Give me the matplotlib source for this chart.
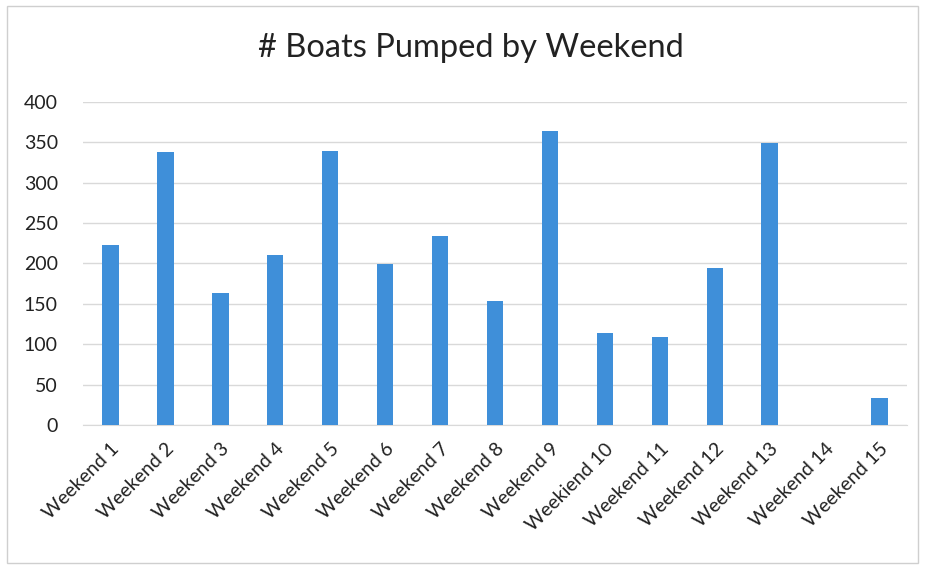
import matplotlib.pyplot as plt
from matplotlib.patches import Rectangle

weekends = ["Weekend 1", "Weekend 2", "Weekend 3", "Weekend 4", "Weekend 5",
            "Weekend 6", "Weekend 7", "Weekend 8", "Weekend 9", "Weekiend 10",
            "Weekend 11", "Weekend 12", "Weekend 13", "Weekend 14", "Weekend 15"]
boats = [223, 338, 164, 210, 339, 199, 234, 154, 364, 114, 109, 194, 349, 0, 33]
yticks = [0, 50, 100, 150, 200, 250, 300, 350, 400]

plt.rcParams['font.family'] = ['Lato', 'DejaVu Sans']

fig = plt.figure(figsize=(9.27, 5.66), dpi=100)
# light frame around the chart, like the scanned page
fig.patches.append(Rectangle((0.008, 0.005), 0.982, 0.985, transform=fig.transFigure,
                             fill=False, edgecolor='#cfcfcf', linewidth=1))

ax = fig.add_axes([0.0895, 0.249, 0.889, 0.571])
x = range(len(weekends))
ax.bar(x, boats, width=0.3, color='#3f8fd9', zorder=3)

ax.set_ylim(0, 400)
ax.set_xlim(-0.5, len(weekends) - 0.5)
ax.set_yticks(yticks)
ax.set_xticks(list(x))
ax.set_xticklabels(weekends, rotation=45, ha='right', rotation_mode='anchor')
ax.tick_params(axis='both', length=0, labelsize=14, colors='#222222')
ax.tick_params(axis='x', pad=11)
ax.tick_params(axis='y', pad=18)
ax.grid(axis='y', color='#d9d9d9', linewidth=1, zorder=0)
for s in ['top', 'right', 'left']:
    ax.spines[s].set_visible(False)
ax.spines['bottom'].set_color('#d9d9d9')

fig.text(0.508, 0.915, "# Boats Pumped by Weekend", ha='center', va='center',
         fontsize=23.5, color='#222222')

fig.savefig('out.png', dpi=100)
